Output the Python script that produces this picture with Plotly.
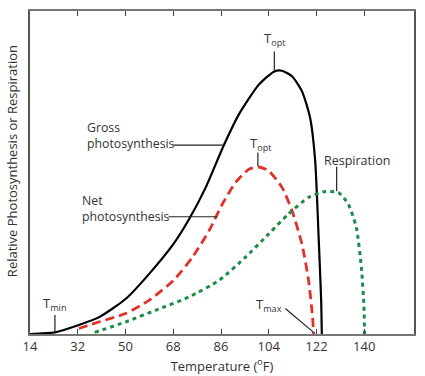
import plotly.graph_objects as go

# Temperatures (°F) and relative rates
gross_t = [14, 23.4, 32.4, 40.25, 50.25, 59, 68.1, 74, 80.25, 87.1, 92.75, 100.25, 106.1, 109, 112.75, 116.5, 119.6, 121.5, 122.75, 123.75, 124]
gross_v = [0, 0.5, 2.8, 5.3, 11, 18.7, 27.9, 35.6, 45.4, 58.5, 68, 77.2, 81.3, 81.5, 79.8, 75.2, 66.9, 53.6, 31, 10.5, 0]

net_t = [32.4, 40.25, 50.25, 59, 68.1, 75.25, 81.5, 86.5, 91.5, 96.5, 100.25, 104, 109, 112.75, 116.5, 119, 120.5, 120.9]
net_v = [1.7, 3.8, 6.4, 10.5, 16.6, 23.8, 32, 40.2, 46.9, 51, 51.7, 50.5, 45.4, 38.2, 27.9, 16.6, 5.3, 0]

resp_t = [38.4, 50.25, 61.5, 74, 85.25, 95.25, 104, 111.5, 119, 125.25, 130.25, 134, 137, 138.9, 139.9, 140.1]
resp_v = [0.5, 3.8, 7.4, 11.5, 16.6, 23.8, 31, 37.2, 42.3, 44.1, 43.8, 40.2, 33, 20.7, 8.4, 0]

tick_vals = [14, 32, 50, 68, 86, 104, 122, 140]
tick_text = ["14", "32", "50", "68", "86", "104", "122", "140"]

FONT = "Open Sans"
TXT = "#333333"

fig = go.Figure()
fig.add_trace(go.Scatter(x=gross_t, y=gross_v, mode="lines", line=dict(color="black", width=2.2, shape="spline", smoothing=0.6), showlegend=False))
fig.add_trace(go.Scatter(x=net_t, y=net_v, mode="lines", line=dict(color="#e2312b", width=2.8, dash="9px,5px", shape="spline", smoothing=0.6), showlegend=False))
fig.add_trace(go.Scatter(x=resp_t, y=resp_v, mode="lines", line=dict(color="#1c8c48", width=3, dash="4px,4px", shape="spline", smoothing=0.6), showlegend=False))

# leader lines
leaders = [
    ((106.1, 87.5), (106.1, 81.6)),
    ((99.9, 56.2), (99.9, 51.9)),
    ((129.6, 51.8), (129.6, 44.2)),
    ((68.0, 58.5), (87.1, 58.5)),
    ((66.2, 36.3), (84.6, 36.3)),
    ((23.4, 5.9), (23.4, 0.6)),
    ((110.25, 7.9), (120.9, 0.5)),
]
for (x0, y0), (x1, y1) in leaders:
    fig.add_shape(type="line", x0=x0, y0=y0, x1=x1, y1=y1, line=dict(color="#222222", width=1.2))

annos = [
    (106.5, 91.2, "T<sub>opt</sub>", "center", 13),
    (100.9, 58.8, "T<sub>opt</sub>", "center", 13),
    (137.4, 53.6, "Respiration", "center", 12.5),
    (34.9, 61.4, "Gross<br>photosynthesis", "left", 12.3),
    (32.75, 38.8, "Net<br>photosynthesis", "left", 12.3),
    (23.4, 9.2, "T<sub>min</sub>", "center", 13),
    (104, 9.0, "T<sub>max</sub>", "center", 13),
]
for x, y, t, al, fs in annos:
    fig.add_annotation(x=x, y=y, text=t, showarrow=False, xanchor=al, yanchor="middle",
                       align="left", font=dict(family=FONT, size=fs, color=TXT))

# y-axis title as a rotated annotation (placed slightly above centre, as in the reference)
fig.add_annotation(xref="paper", yref="paper", x=-0.047, xanchor="center", y=0.535, yanchor="middle",
                   text="Relative Photosynthesis or Respiration", textangle=-90, showarrow=False,
                   font=dict(family=FONT, size=13, color=TXT))

fig.update_layout(
    width=425, height=376,
    margin=dict(l=30, r=9, t=10, b=42),
    paper_bgcolor="white", plot_bgcolor="white",
    font=dict(family=FONT, color=TXT),
    xaxis=dict(range=[14, 158.75], tickmode="array", tickvals=tick_vals, ticktext=tick_text,
               ticks="inside", ticklen=5, tickcolor="#444", mirror="allticks", showline=True,
               linecolor="#777", linewidth=1.5, showgrid=False, zeroline=False,
               tickfont=dict(family=FONT, size=13, color=TXT),
               title=dict(text="Temperature (<sup>o</sup>F)", font=dict(family=FONT, size=13, color=TXT), standoff=2)),
    yaxis=dict(range=[0, 100], showticklabels=False, ticks="", showline=True, mirror=True,
               linecolor="#555", linewidth=1.5, showgrid=False, zeroline=False),
)

fig.write_html("out.html", config={"displayModeBar": False},
               post_script="document.body.style.margin='0';document.body.style.overflow='hidden';")
